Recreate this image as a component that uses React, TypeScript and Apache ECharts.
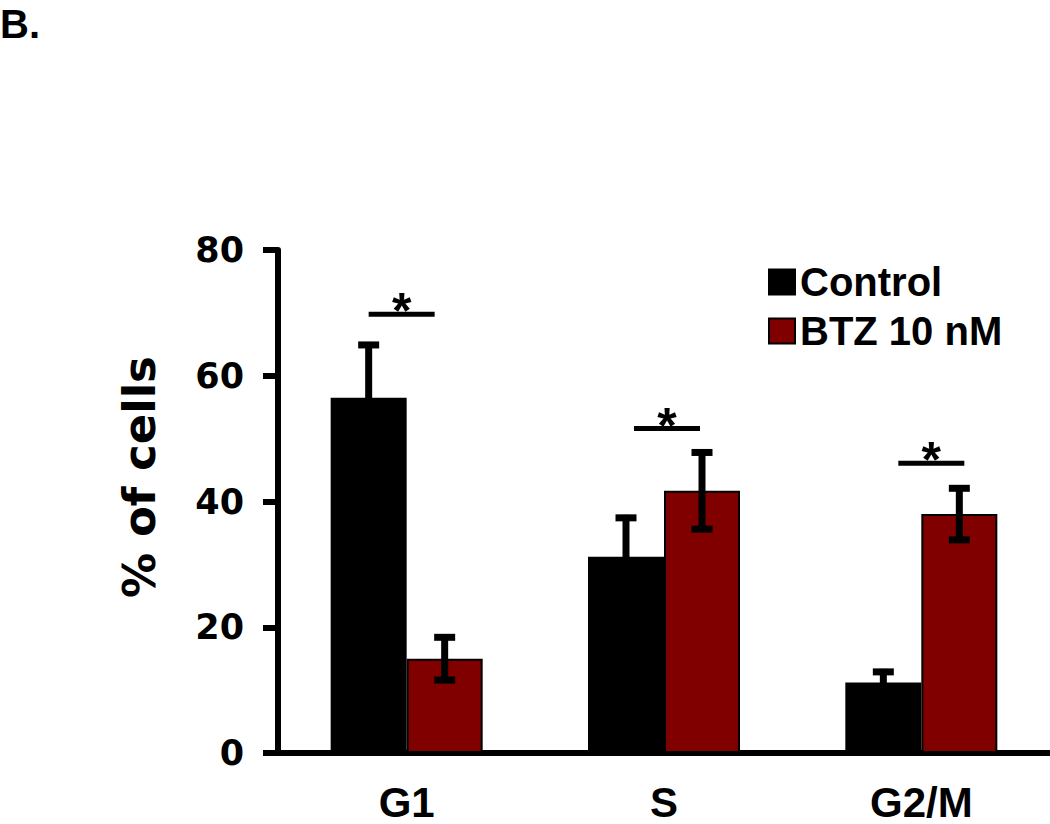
import React, { useEffect, useRef } from "react";
import * as echarts from "echarts";

const categories = ["G1", "S", "G2/M"];
const seriesNames = ["Control", "BTZ 10 nM"];
const controlValues = [56.5, 31.2, 11.2];
const controlErrors = [8.4, 6.2, 1.7];
const btzValues = [15.0, 41.7, 38.0];
const btzErrors = [3.4, 6.1, 4.1];
const significanceLevels = [69.8, 51.6, 46.1];
const significanceMarks = ["*", "*", "*"];
const yMin = 0;
const yMax = 80;
const yInterval = 20;

const BAR_W = 76;
const SIG_OFFSETS = [-5, 3, 10];
const ARIAL = "'Liberation Sans', Arial, sans-serif";
const WIDE = "'DejaVu Sans', Verdana, sans-serif";

function errorRenderer(offset: number) {
  return (params: any, api: any) => {
    const idx = api.value(0);
    const v = api.value(1);
    const e = api.value(2);
    const top = api.coord([idx, v + e]);
    const bot = api.coord([idx, v - e]);
    const x = top[0] + offset;
    const cap = 21;
    const st = { stroke: "#000", lineWidth: 7 };
    return {
      type: "group",
      children: [
        { type: "line", shape: { x1: x, y1: top[1] - 3, x2: x, y2: bot[1] + 3 }, style: st },
        { type: "line", shape: { x1: x - cap / 2, y1: top[1], x2: x + cap / 2, y2: top[1] }, style: st },
        { type: "line", shape: { x1: x - cap / 2, y1: bot[1], x2: x + cap / 2, y2: bot[1] }, style: st },
      ],
    };
  };
}

function sigRenderer(params: any, api: any) {
  const idx = api.value(0);
  const v = api.value(1);
  const p = api.coord([idx, v]);
  const x = p[0] + SIG_OFFSETS[params.dataIndex];
  return {
    type: "group",
    children: [
      { type: "line", shape: { x1: x - 33, y1: p[1], x2: x + 33, y2: p[1] }, style: { stroke: "#000", lineWidth: 5 } },
      {
        type: "text",
        style: {
          text: significanceMarks[params.dataIndex],
          x: x,
          y: p[1] - 3,
          align: "center",
          verticalAlign: "middle",
          fontSize: 50,
          fontWeight: "bold",
          fontFamily: ARIAL,
          fill: "#000",
        },
      },
    ],
  };
}

export default function App() {
  const ref = useRef<HTMLDivElement>(null);
  useEffect(() => {
    if (!ref.current) return;
    const chart = echarts.init(ref.current, undefined, { renderer: "svg" });
    chart.setOption({
      animation: false,
      backgroundColor: "#fff",
      grid: { left: 278, right: 0, top: 250, bottom: 71, containLabel: false },
      legend: {
        data: seriesNames,
        orient: "vertical",
        left: 763,
        top: 257,
        itemWidth: 26,
        itemHeight: 25,
        itemGap: 9,
        icon: "rect",
        textStyle: { fontSize: 40, fontWeight: "bold", fontFamily: ARIAL, color: "#000", lineHeight: 40, padding: [0, 0, 0, 0] },
      },
      graphic: [
        {
          type: "text",
          left: 0,
          top: 4,
          style: { text: "B.", fontSize: 40, fontWeight: "bold", fontFamily: ARIAL, fill: "#000", lineHeight: 36 },
        },
        {
          type: "text",
          x: 139,
          y: 477,
          rotation: Math.PI / 2,
          style: {
            text: "% of cells",
            fontSize: 45,
            fontWeight: "bold",
            fontFamily: WIDE,
            fill: "#000",
            align: "center",
            verticalAlign: "middle",
          },
        },
      ],
      xAxis: {
        type: "category",
        data: categories,
        axisLine: { lineStyle: { color: "#000", width: 6 } },
        axisTick: { alignWithLabel: true, length: 16, lineStyle: { color: "#000", width: 5 } },
        axisLabel: { fontSize: 42, fontWeight: "bold", fontFamily: ARIAL, color: "#000", margin: 29, lineHeight: 40 },
        splitLine: { show: false },
      },
      yAxis: {
        type: "value",
        min: yMin,
        max: yMax,
        interval: yInterval,
        axisLine: { show: true, lineStyle: { color: "#000", width: 6 } },
        axisTick: { show: true, length: 15, lineStyle: { color: "#000", width: 6 } },
        axisLabel: { fontSize: 35, fontWeight: "bold", fontFamily: WIDE, color: "#000", margin: 34 },
        splitLine: { show: false },
      },
      series: [
        {
          name: seriesNames[0],
          type: "bar",
          data: controlValues,
          barWidth: BAR_W,
          barGap: "0%",
          itemStyle: { color: "#000", borderColor: "#000", borderWidth: 2 },
        },
        {
          name: seriesNames[1],
          type: "bar",
          data: btzValues,
          barWidth: BAR_W,
          barGap: "0%",
          itemStyle: { color: "#800000", borderColor: "#000", borderWidth: 2 },
        },
        {
          type: "custom",
          renderItem: errorRenderer(-BAR_W / 2),
          data: controlValues.map((v, i) => [i, v, controlErrors[i]]),
          z: 5,
        },
        {
          type: "custom",
          renderItem: errorRenderer(BAR_W / 2),
          data: btzValues.map((v, i) => [i, v, btzErrors[i]]),
          z: 5,
        },
        {
          type: "custom",
          renderItem: sigRenderer,
          data: significanceLevels.map((v, i) => [i, v]),
          z: 5,
        },
      ],
    });
    return () => chart.dispose();
  }, []);
  return <div ref={ref} style={{ position: "absolute", left: 0, top: 0, width: 1050, height: 824 }} />;
}
